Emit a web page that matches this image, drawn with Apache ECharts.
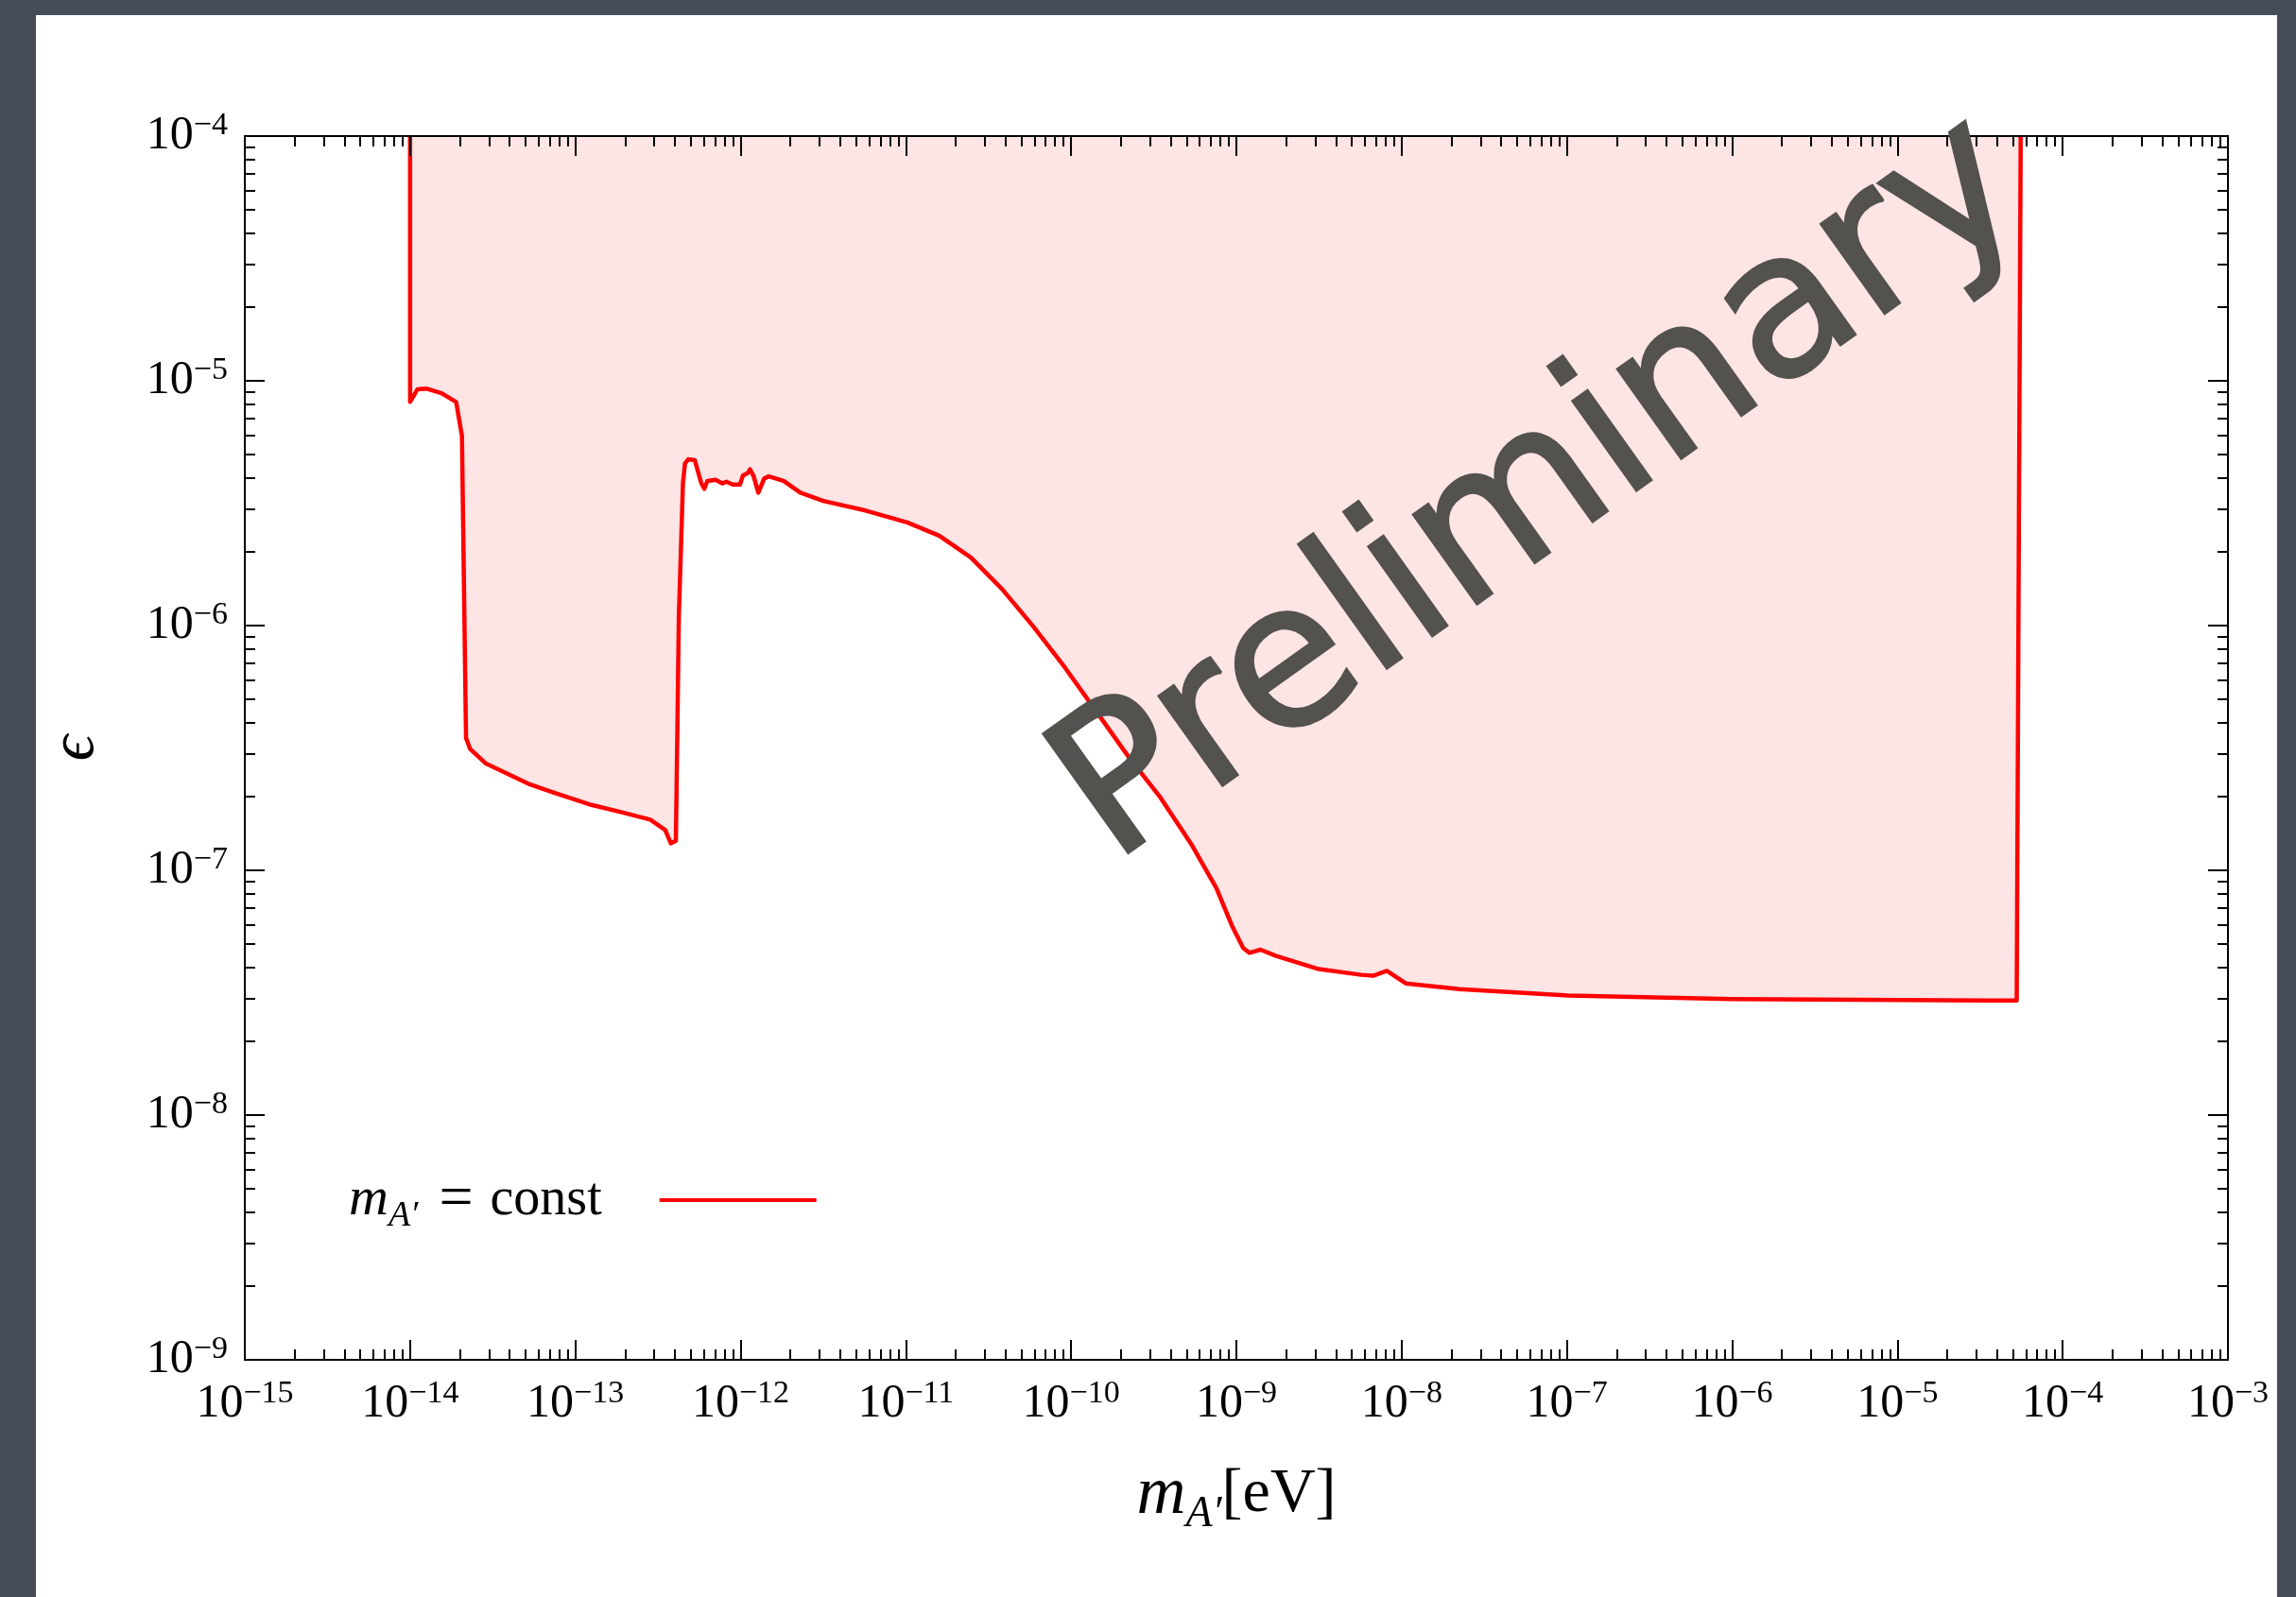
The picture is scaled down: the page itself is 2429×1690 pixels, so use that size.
<!DOCTYPE html>
<html>
<head>
<meta charset="utf-8">
<script src="https://cdn.jsdelivr.net/npm/echarts@6/dist/echarts.min.js"></script>
<style>
  html, body { margin: 0; padding: 0; width: 2429px; height: 1690px; overflow: hidden; background: #474c59; }
  #panel { position: absolute; left: 38px; top: 16px; width: 2371px; height: 1690px; background: #ffffff; }
  #chart { position: absolute; left: 0; top: 0; width: 2429px; height: 1690px; }
</style>
</head>
<body>
<div id="panel"></div>
<div id="chart"></div>
<script>
// Exclusion contour in the (dark photon mass, kinetic mixing) plane.
// Mass in eV, mixing parameter epsilon (dimensionless).
const massEV = [
  1e-14, 1e-14, 1.11e-14, 1.25e-14, 1.55e-14, 1.9e-14, 2.06e-14, 2.18e-14, 2.31e-14, 2.88e-14,
  5.18e-14, 7.36e-14, 1.25e-13, 1.89e-13, 2.84e-13, 3.5e-13, 3.78e-13, 4.06e-13, 4.23e-13, 4.48e-13,
  4.61e-13, 4.82e-13, 5.28e-13, 5.77e-13, 6.03e-13, 6.3e-13, 7.06e-13, 7.74e-13, 8.2e-13, 8.95e-13,
  9.91e-13, 1.035e-12, 1.10e-12, 1.14e-12, 1.20e-12, 1.28e-12, 1.39e-12, 1.48e-12, 1.82e-12, 2.30e-12,
  3.17e-12, 5.71e-12, 1.02e-11, 1.59e-11, 2.47e-11, 3.82e-11, 5.93e-11, 9.2e-11, 1.43e-10, 2.21e-10,
  3.44e-10, 5.33e-10, 7.57e-10, 9.42e-10, 1.10e-9, 1.20e-9, 1.40e-9, 1.74e-9, 3.09e-9, 5.7e-9,
  6.73e-9, 8.13e-9, 1.06e-8, 2.25e-8, 1.02e-7, 9.9e-7, 3.4e-5, 5.27e-5, 5.57e-5
];
const epsilon = [
  1e-4, 8.2e-6, 9.24e-6, 9.3e-6, 8.9e-6, 8.2e-6, 5.95e-6, 3.47e-7, 3.13e-7, 2.73e-7,
  2.26e-7, 2.08e-7, 1.85e-7, 1.73e-7, 1.61e-7, 1.46e-7, 1.29e-7, 1.32e-7, 1.09e-6, 3.83e-6,
  4.6e-6, 4.78e-6, 4.74e-6, 3.83e-6, 3.62e-6, 3.9e-6, 3.94e-6, 3.81e-6, 3.87e-6, 3.77e-6,
  3.77e-6, 4.11e-6, 4.19e-6, 4.35e-6, 4.07e-6, 3.49e-6, 3.99e-6, 4.07e-6, 3.9e-6, 3.49e-6,
  3.23e-6, 2.95e-6, 2.64e-6, 2.33e-6, 1.90e-6, 1.41e-6, 9.88e-7, 6.72e-7, 4.43e-7, 2.93e-7,
  2.0e-7, 1.28e-7, 8.45e-8, 5.92e-8, 4.81e-8, 4.6e-8, 4.74e-8, 4.47e-8, 3.96e-8, 3.74e-8,
  3.71e-8, 3.88e-8, 3.45e-8, 3.27e-8, 3.08e-8, 2.98e-8, 2.94e-8, 2.94e-8, 1e-4
];

// Decade tick positions
const xMajorTicks = [1e-15, 1e-14, 1e-13, 1e-12, 1e-11, 1e-10, 1e-9, 1e-8, 1e-7, 1e-6, 1e-5, 1e-4, 1e-3];
const yMajorTicks = [1e-9, 1e-8, 1e-7, 1e-6, 1e-5, 1e-4];

const seriesName = "m_A' = const";
const xTitle = '{m|m}{s|A\u2032}{t|[eV]}';
const yTitle = '\u03f5';
const legendText = '{m|m}{s|A\u2032}{e|=}{t|const}';
const watermark = 'Preliminary';

// Intermediate ticks at 2..9 within every decade
function decadeMinors(majors) {
  const out = [];
  for (let i = 0; i < majors.length - 1; i++) {
    for (let k = 2; k <= 9; k++) out.push(k * majors[i]);
  }
  return out;
}
const xMinorTicks = decadeMinors(xMajorTicks);
const yMinorTicks = decadeMinors(yMajorTicks);

const SERIF = "'Liberation Serif', 'Times New Roman', serif";
const MATH = "'Liberation Serif', 'DejaVu Serif', serif";

function powerLabel(v) {
  const e = Math.round(Math.log10(v));
  return '{b|10}{s|' + (e < 0 ? '\u2212' : '') + Math.abs(e) + '}';
}
const powRich = {
  b: { fontFamily: SERIF, fontSize: 50, lineHeight: 56, color: '#000' },
  s: { fontFamily: SERIF, fontSize: 34, lineHeight: 34, verticalAlign: 'top', color: '#000' }
};

const blackLine = { color: '#000', width: 2 };

function makeAxis(dim, position, ticks, len, withLabels) {
  const isX = dim === 'x';
  const ax = {
    type: 'log',
    logBase: 10,
    position: position,
    min: isX ? xMajorTicks[0] : yMajorTicks[0],
    max: isX ? xMajorTicks[xMajorTicks.length - 1] : yMajorTicks[yMajorTicks.length - 1],
    z: 10,
    axisLine: { show: true, onZero: false, lineStyle: blackLine },
    axisTick: { show: true, inside: true, length: len, customValues: ticks, lineStyle: blackLine },
    axisLabel: { show: false },
    splitLine: { show: false },
    minorTick: { show: false },
    minorSplitLine: { show: false },
    axisPointer: { show: false }
  };
  if (withLabels) {
    ax.axisLabel = {
      show: true,
      customValues: ticks,
      margin: isX ? 19 : 18,
      formatter: powerLabel,
      rich: powRich
    };
  }
  return ax;
}

const xAxes = [
  makeAxis('x', 'bottom', xMajorTicks, 21, true),
  makeAxis('x', 'bottom', xMinorTicks, 11, false),
  makeAxis('x', 'top', xMajorTicks, 21, false),
  makeAxis('x', 'top', xMinorTicks, 11, false)
];
const yAxes = [
  makeAxis('y', 'left', yMajorTicks, 21, true),
  makeAxis('y', 'left', yMinorTicks, 11, false),
  makeAxis('y', 'right', yMajorTicks, 21, false),
  makeAxis('y', 'right', yMinorTicks, 11, false)
];

xAxes[0].name = xTitle;
xAxes[0].nameLocation = 'middle';
xAxes[0].nameGap = 104;
xAxes[0].nameTextStyle = {
  rich: {
    m: { fontFamily: MATH, fontStyle: 'italic', fontSize: 72, lineHeight: 78, color: '#000' },
    s: { fontFamily: MATH, fontStyle: 'italic', fontSize: 46, lineHeight: 46, verticalAlign: 'top', padding: [37, 0, 0, 0], color: '#000' },
    t: { fontFamily: MATH, fontSize: 66, lineHeight: 78, color: '#000' }
  }
};

yAxes[0].name = yTitle;
yAxes[0].nameLocation = 'middle';
yAxes[0].nameRotate = 90;
yAxes[0].nameGap = 145;
yAxes[0].nameTextStyle = { fontFamily: MATH, fontStyle: 'italic', fontSize: 68, color: '#000' };

const chart = echarts.init(document.getElementById('chart'), null, { renderer: 'canvas' });

chart.setOption({
  animation: false,
  backgroundColor: 'transparent',
  grid: { left: 259, top: 144, width: 2098, height: 1295, containLabel: false },
  xAxis: xAxes,
  yAxis: yAxes,
  legend: {
    left: 369,
    top: 1238,
    padding: 0,
    align: 'right',
    icon: 'rect',
    itemWidth: 166,
    itemHeight: 4,
    selectedMode: false,
    data: [seriesName],
    itemStyle: { color: '#ff0000' },
    formatter: function () { return legendText; },
    textStyle: {
      rich: {
        m: { fontFamily: MATH, fontStyle: 'italic', fontSize: 58, lineHeight: 60, color: '#000' },
        s: { fontFamily: MATH, fontStyle: 'italic', fontSize: 38, lineHeight: 38, verticalAlign: 'top', padding: [28, 0, 0, 0], color: '#000' },
        e: { fontFamily: MATH, fontSize: 64, lineHeight: 60, color: '#000', padding: [0, 18, 0, 22] },
        t: { fontFamily: MATH, fontSize: 56, lineHeight: 60, color: '#000', padding: [0, 56, 0, 0] }
      }
    }
  },
  graphic: [
    {
      type: 'text',
      x: 1632,
      y: 522,
      rotation: 35.5 * Math.PI / 180,
      z: 100,
      silent: true,
      style: {
        text: watermark,
        fontFamily: "'DejaVu Sans', sans-serif",
        fontSize: 212,
        fill: '#53524e',
        stroke: '#53524e',
        lineWidth: 3,
        lineJoin: 'round',
        align: 'center',
        verticalAlign: 'middle'
      }
    }
  ],
  series: [
    {
      type: 'line',
      name: seriesName,
      xAxisIndex: 0,
      yAxisIndex: 0,
      data: massEV.map((m, i) => [m, epsilon[i]]),
      showSymbol: false,
      symbol: 'none',
      smooth: false,
      z: 2,
      lineStyle: { color: '#ff0000', width: 4.5, join: 'round' },
      itemStyle: { color: '#ff0000' },
      areaStyle: { color: '#fde4e5', opacity: 1, origin: 'end' },
      emphasis: { disabled: true }
    }
  ]
});
</script>
</body>
</html>
